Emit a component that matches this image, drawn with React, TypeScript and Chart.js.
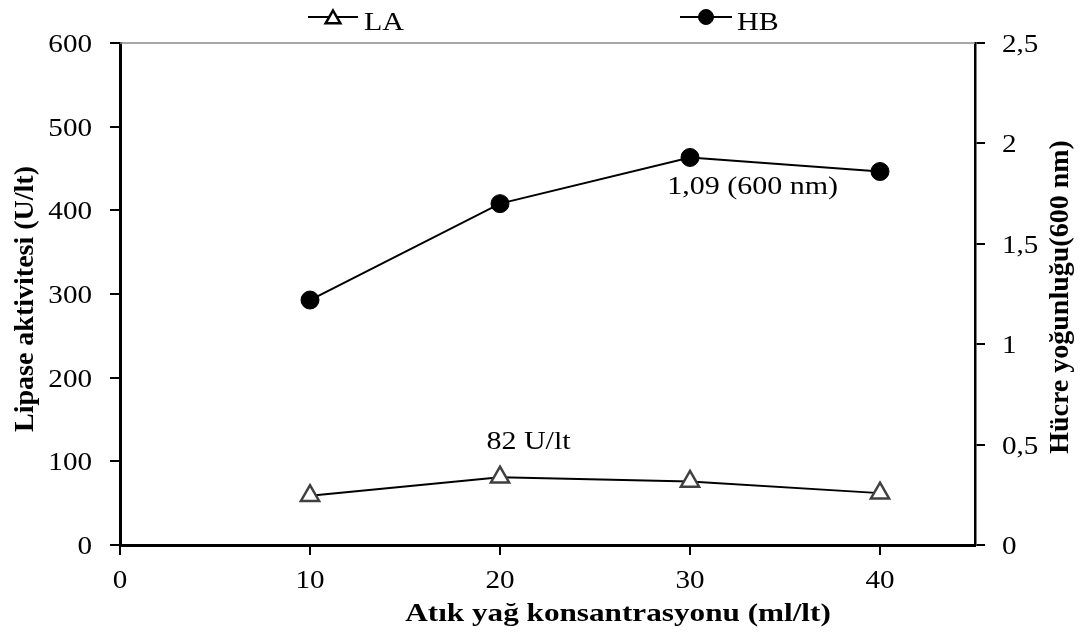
import React, { useEffect, useRef } from 'react';
import { Chart, registerables } from 'chart.js';
import { drawPoint } from 'chart.js/helpers';

Chart.register(...registerables);

const concentrations = [10, 20, 30, 40];
const lipaseActivity = [59, 81, 76, 62];
const cellDensity = [1.22, 1.7, 1.93, 1.86];

const seriesLabels = ['LA', 'HB'];
const xTitle = 'Atık yağ konsantrasyonu (ml/lt)';
const yTitle = 'Lipase aktivitesi (U/lt)';
const y1Title = 'Hücre yoğunluğu(600 nm)';

const annotationTexts = ['82 U/lt', '1,09 (600 nm)'];
const annotationX = [21.5, 33.3];
const annotationY = [122, 1.78];
const annotationAxis = ['y', 'y1'];

const FONT = "'Liberation Serif', 'Times New Roman', serif";
const STRETCH = 1.2;
const TICK_STRETCH = 1.12;

const formatTick = (v: number) => String(v).replace('.', ',');

function stretchedText(ctx: any, text: string, x: number, y: number, align: string, k = STRETCH) {
  ctx.save();
  ctx.translate(x, y);
  ctx.scale(k, 1);
  ctx.textAlign = align;
  ctx.fillText(text, 0, 0);
  ctx.restore();
}

const overlayPlugin = {
  id: 'overlay',
  afterDraw(chart: any) {
    const { ctx, chartArea, scales } = chart;
    ctx.save();
    // top border
    ctx.strokeStyle = '#8a8a8a';
    ctx.lineWidth = 1.5;
    ctx.beginPath();
    ctx.moveTo(chartArea.left, chartArea.top);
    ctx.lineTo(chartArea.right, chartArea.top);
    ctx.stroke();

    ctx.fillStyle = '#000';

    // tick labels, positioned by the chart's scales
    ctx.font = `26px ${FONT}`;
    ctx.textBaseline = 'alphabetic';
    for (const t of scales.x.ticks) {
      stretchedText(ctx, formatTick(t.value), scales.x.getPixelForValue(t.value), 588, 'center', TICK_STRETCH);
    }
    for (const t of scales.y.ticks) {
      stretchedText(ctx, formatTick(t.value), 92, scales.y.getPixelForValue(t.value) + 9, 'right', TICK_STRETCH);
    }
    for (const t of scales.y1.ticks) {
      stretchedText(ctx, formatTick(t.value), 1002, scales.y1.getPixelForValue(t.value) + 9, 'left', TICK_STRETCH);
    }

    // axis titles
    ctx.font = `bold 28px ${FONT}`;
    ctx.textAlign = 'center';
    ctx.textBaseline = 'middle';
    ctx.save();
    ctx.translate(26, 299);
    ctx.rotate(-Math.PI / 2);
    ctx.fillText(yTitle, 0, 0);
    ctx.restore();

    ctx.save();
    ctx.translate(1061, 297);
    ctx.rotate(-Math.PI / 2);
    ctx.fillText(y1Title, 0, 0);
    ctx.restore();

    ctx.font = `bold 26px ${FONT}`;
    stretchedText(ctx, xTitle, 618, 614, 'center');

    // legend
    const legendLine = [[308, 358], [680, 732]];
    const legendText = [364, 737];
    const legendY = 17;
    for (let i = 0; i < 2; i++) {
      ctx.strokeStyle = '#000';
      ctx.lineWidth = 2;
      ctx.beginPath();
      ctx.moveTo(legendLine[i][0], legendY);
      ctx.lineTo(legendLine[i][1], legendY);
      ctx.stroke();
      const cx = (legendLine[i][0] + legendLine[i][1]) / 2;
      if (i === 0) {
        ctx.fillStyle = '#fff';
        ctx.strokeStyle = '#000';
        ctx.lineWidth = 2.5;
        drawPoint(ctx, { pointStyle: 'triangle', radius: 8.5, rotation: 0, borderWidth: 2.5 }, cx, legendY + 2);
      } else {
        ctx.fillStyle = '#000';
        ctx.strokeStyle = '#000';
        ctx.lineWidth = 1;
        drawPoint(ctx, { pointStyle: 'circle', radius: 7.5, rotation: 0, borderWidth: 1 }, cx, legendY);
      }
      ctx.fillStyle = '#000';
      ctx.font = `25px ${FONT}`;
      ctx.textBaseline = 'alphabetic';
      stretchedText(ctx, seriesLabels[i], legendText[i], 30, 'left');
    }

    // annotations
    ctx.font = `25px ${FONT}`;
    ctx.textBaseline = 'middle';
    for (let i = 0; i < annotationTexts.length; i++) {
      const px = scales.x.getPixelForValue(annotationX[i]);
      const py = scales[annotationAxis[i]].getPixelForValue(annotationY[i]);
      stretchedText(ctx, annotationTexts[i], px, py, 'center');
    }
    ctx.restore();
  },
};

export default function App() {
  const ref = useRef<HTMLCanvasElement | null>(null);
  useEffect(() => {
    if (!ref.current) return;
    const tickFont = { family: FONT, size: 26 };
    const chart = new Chart(ref.current, {
      type: 'line',
      data: {
        datasets: [
          {
            label: seriesLabels[0],
            data: concentrations.map((x, i) => ({ x, y: lipaseActivity[i] })),
            yAxisID: 'y',
            borderColor: '#000',
            borderWidth: 2,
            pointStyle: 'triangle',
            pointRadius: 10.5,
            pointBorderColor: '#404040',
            pointBackgroundColor: '#fff',
            pointBorderWidth: 2.5,
            tension: 0,
          },
          {
            label: seriesLabels[1],
            data: concentrations.map((x, i) => ({ x, y: cellDensity[i] })),
            yAxisID: 'y1',
            borderColor: '#000',
            borderWidth: 2,
            pointStyle: 'circle',
            pointRadius: 9,
            pointBorderColor: '#000',
            pointBackgroundColor: '#000',
            pointBorderWidth: 1,
            tension: 0,
          },
        ],
      },
      options: {
        responsive: false,
        animation: false,
        layout: { padding: { top: 43, left: 0, right: 0, bottom: 0 } },
        plugins: { legend: { display: false }, tooltip: { enabled: false } },
        scales: {
          x: {
            type: 'linear',
            min: 0,
            max: 45,
            afterFit: (s: any) => { s.height = 90; },
            ticks: { stepSize: 10, includeBounds: false, font: tickFont, color: 'rgba(0,0,0,0)', padding: 8, maxRotation: 0 },
            grid: { drawOnChartArea: false, tickLength: 10, color: '#000', lineWidth: 2 },
            border: { color: '#000', width: 3 },
          },
          y: {
            type: 'linear',
            position: 'left',
            min: 0,
            max: 600,
            afterFit: (s: any) => { s.width = 120; },
            ticks: { stepSize: 100, font: tickFont, color: 'rgba(0,0,0,0)', padding: 16 },
            grid: { drawOnChartArea: false, tickLength: 10, color: '#000', lineWidth: 2 },
            border: { color: '#000', width: 3 },
          },
          y1: {
            type: 'linear',
            position: 'right',
            min: 0,
            max: 2.5,
            afterFit: (s: any) => { s.width = 109; },
            ticks: {
              stepSize: 0.5,
              font: tickFont,
              color: 'rgba(0,0,0,0)',
              padding: 16,
              callback: (v: any) => formatTick(v),
            },
            grid: { drawOnChartArea: false, tickLength: 10, color: '#000', lineWidth: 2 },
            border: { color: '#000', width: 2.5 },
          },
        },
      },
      plugins: [overlayPlugin],
    });
    return () => chart.destroy();
  }, []);
  return (
    <div style={{ position: 'absolute', left: 0, top: 0, width: 1084, height: 635, background: '#fff' }}>
      <canvas ref={ref} width={1084} height={635} style={{ display: 'block' }} />
    </div>
  );
}
